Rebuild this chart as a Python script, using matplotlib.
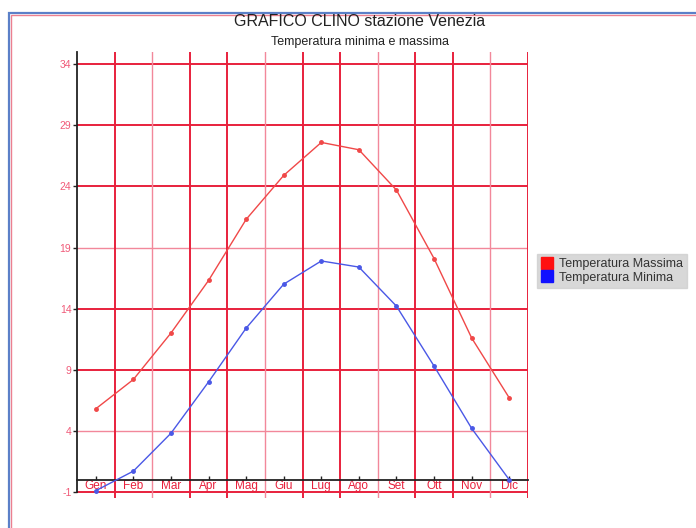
import matplotlib.pyplot as plt
from matplotlib.patches import Rectangle

mesi = ["Gen", "Feb", "Mar", "Apr", "Mag", "Giu", "Lug", "Ago", "Set", "Ott", "Nov", "Dic"]
t_max = [5.8, 8.2, 12.0, 16.3, 21.3, 24.9, 27.6, 27.0, 23.7, 18.1, 11.6, 6.7]
t_min = [-0.9, 0.7, 3.8, 8.0, 12.4, 16.0, 17.9, 17.4, 14.2, 9.3, 4.2, 0.0]
y_ticks = [-1, 4, 9, 14, 19, 24, 29, 34]

RED_GRID = "#e8203c"
PINK_GRID = "#f2889a"

plt.rcParams['font.family'] = ['Liberation Sans', 'DejaVu Sans']
plt.rcParams['axes.unicode_minus'] = False

fig = plt.figure(figsize=(6.96, 5.28), dpi=100)

# cornice esterna (blu fuori, rosa dentro)
fig.patches.append(Rectangle((9 / 696, -0.05), 1.1, (528 - 13) / 528 + 0.05,
                             transform=fig.transFigure, fill=False,
                             edgecolor="#5b80c8", linewidth=1.6))
fig.patches.append(Rectangle((11 / 696, -0.05), 1.1, (528 - 15) / 528 + 0.05,
                             transform=fig.transFigure, fill=False,
                             edgecolor="#ec8090", linewidth=1.0))

ax = fig.add_axes([77 / 696, 1 - 498 / 528, 451 / 696, 446 / 528])
ax.set_xlim(-0.5, 11.5)
ax.set_ylim(-1.5, 35)
ax.patch.set_alpha(0)

# griglia orizzontale
for v in y_ticks:
    thin = v in (4, 19)
    ax.axhline(v, color=PINK_GRID if thin else RED_GRID,
               linewidth=1.0 if thin else 1.4, zorder=1)

# griglia verticale (separatori dei mesi)
for k in range(12):
    thin = k % 3 == 1
    ax.axvline(k + 0.5, color=PINK_GRID if thin else RED_GRID,
               linewidth=1.0 if thin else 1.4, zorder=1)

x = range(len(mesi))
l1, = ax.plot(x, t_max, color="#f04848", linewidth=1.0, marker="o",
              markersize=2.5, zorder=3)
l2, = ax.plot(x, t_min, color="#4a58e6", linewidth=1.0, marker="o",
              markersize=2.5, zorder=3)

# assi
for s in ("top", "right"):
    ax.spines[s].set_visible(False)
ax.spines["left"].set_color("#222222")
ax.spines["left"].set_linewidth(1.3)
ax.spines["left"].set_bounds(-1, 35)
ax.spines["bottom"].set_position(("data", 0))
ax.spines["bottom"].set_color("#222222")
ax.spines["bottom"].set_linewidth(1.3)

ax.set_yticks(y_ticks)
ax.tick_params(axis="y", colors="#222222", labelcolor="#f05a78", length=3,
               width=1, labelsize=7.5, pad=1)
ax.set_xticks(list(x))
ax.set_xticklabels(mesi)
ax.tick_params(axis="x", direction="in", colors="#222222", labelcolor="#e8203c",
               length=3, width=1, labelsize=8.5, pad=0.5)

fig.text(0.517, 1 - 21 / 528, "GRAFICO CLINO stazione Venezia", ha="center",
         va="center", fontsize=11.5, color="#222222")
fig.text(0.517, 1 - 42 / 528, "Temperatura minima e massima", ha="center",
         va="center", fontsize=9, color="#222222")

leg = fig.legend([l1, l2], ["Temperatura Massima", "Temperatura Minima"],
                 loc="center left", bbox_to_anchor=(537 / 696, 1 - 271 / 528),
                 fontsize=9, frameon=True, fancybox=False,
                 borderpad=0.35, handlelength=0.9, handletextpad=0.5,
                 labelspacing=0.1, borderaxespad=0)
leg.get_frame().set_facecolor("#cfcfcf")
leg.get_frame().set_edgecolor("#cfcfcf")
for h, c in zip(leg.legend_handles, ["#ff1010", "#1010ff"]):
    h.set_linestyle("None")
    h.set_marker("s")
    h.set_markersize(9)
    h.set_color(c)
for t in leg.get_texts():
    t.set_color("#333333")

fig.savefig("out.png", dpi=100)
